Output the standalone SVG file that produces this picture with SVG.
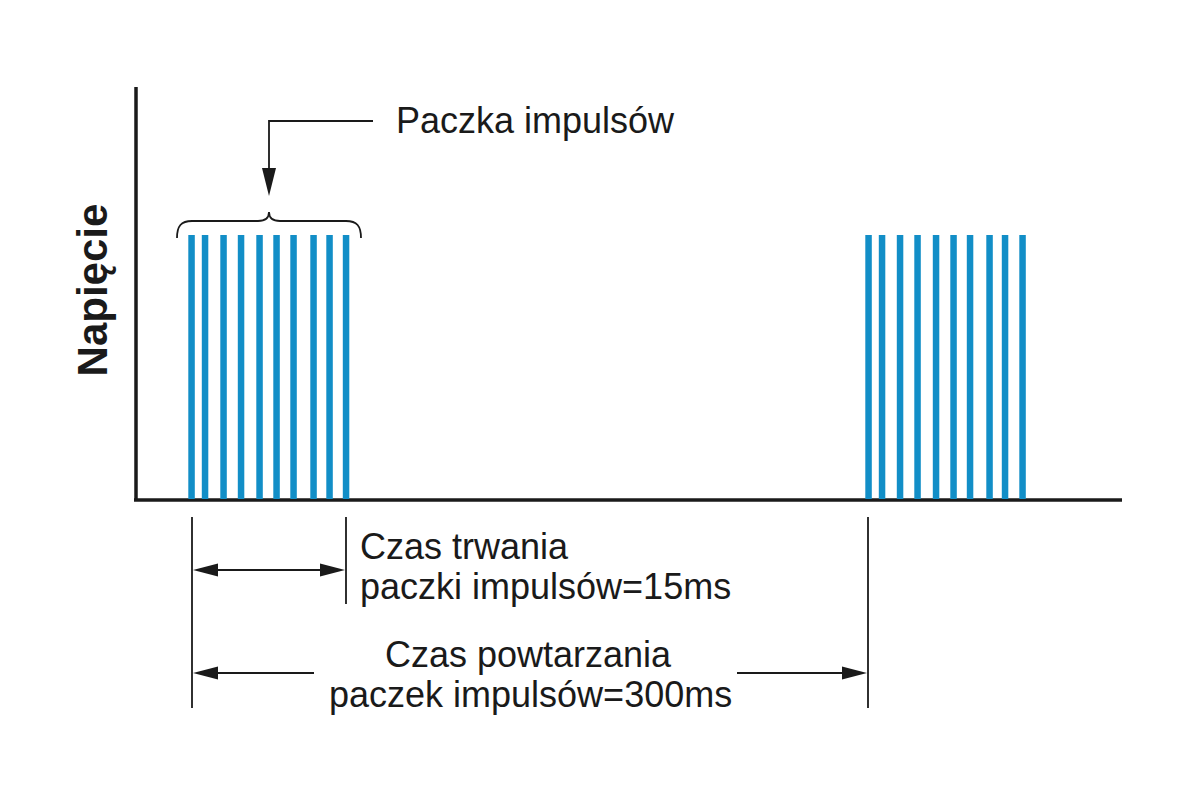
<svg xmlns="http://www.w3.org/2000/svg" width="1200" height="800" viewBox="0 0 1200 800">
<defs>
<style>
.t{font-family:"Liberation Sans",Arial,sans-serif;font-size:36px;fill:#1a1a1a}
.tb{font-family:"Liberation Sans",Arial,sans-serif;font-size:42px;font-weight:bold;fill:#1a1a1a}
.ax{stroke:#1a1a1a;stroke-width:3.5;fill:none}
.dim{stroke:#1a1a1a;stroke-width:1.8;fill:none}
.p{fill:#128ec7}
.ah{fill:#1a1a1a}
</style>
</defs>
<rect width="1200" height="800" fill="#ffffff"/>
<g id="axes">
<line class="ax" x1="136" y1="87" x2="136" y2="501"/>
<line class="ax" x1="134" y1="500" x2="1122" y2="500"/>
</g>
<g id="ylabel">
<text class="tb" x="107" y="290" text-anchor="middle" transform="rotate(-90 107 290)">Napięcie</text>
</g>
<g id="burst1">
<rect class="p" x="188.3" y="235" width="6.5" height="264"/>
<rect class="p" x="201.8" y="235" width="6.5" height="264"/>
<rect class="p" x="220.3" y="235" width="6.5" height="264"/>
<rect class="p" x="237.8" y="235" width="6.5" height="264"/>
<rect class="p" x="256.3" y="235" width="6.5" height="264"/>
<rect class="p" x="273.3" y="235" width="6.5" height="264"/>
<rect class="p" x="290.3" y="235" width="6.5" height="264"/>
<rect class="p" x="310.3" y="235" width="6.5" height="264"/>
<rect class="p" x="326.3" y="235" width="6.5" height="264"/>
<rect class="p" x="342.8" y="235" width="6.5" height="264"/>
</g>
<g id="burst2">
<rect class="p" x="865.3" y="235" width="6.5" height="264"/>
<rect class="p" x="878.8" y="235" width="6.5" height="264"/>
<rect class="p" x="896.8" y="235" width="6.5" height="264"/>
<rect class="p" x="914.3" y="235" width="6.5" height="264"/>
<rect class="p" x="932.8" y="235" width="6.5" height="264"/>
<rect class="p" x="950.3" y="235" width="6.5" height="264"/>
<rect class="p" x="966.8" y="235" width="6.5" height="264"/>
<rect class="p" x="986.3" y="235" width="6.5" height="264"/>
<rect class="p" x="1001.8" y="235" width="6.5" height="264"/>
<rect class="p" x="1019.3" y="235" width="6.5" height="264"/>
</g>
<g id="brace">
<path class="dim" d="M177,238 C177,226 181,221 192,221 L258,221 C265,221 269,218 269,212 C269,218 273,221 280,221 L346,221 C357,221 361,226 361,238"/>
</g>
<g id="label-burst">
<text class="t" x="396" y="133">Paczka impulsów</text>
</g>
<g id="label-duration">
<text class="t" x="360" y="559">Czas trwania</text>
<text class="t" x="360" y="599">paczki impulsów=15ms</text>
</g>
<g id="label-period">
<text class="t" x="385" y="667">Czas powtarzania</text>
<text class="t" x="329" y="707">paczek impulsów=300ms</text>
</g>
<g id="connectors">
<polyline class="dim" points="373,121 269,121 269,172"/>
<polygon class="ah" points="262,168 276,168 269,196"/>
<line class="dim" x1="192" y1="517" x2="192" y2="708"/>
<line class="dim" x1="346" y1="517" x2="346" y2="604"/>
<line class="dim" x1="868" y1="517" x2="868" y2="708"/>
<line class="dim" x1="212" y1="570" x2="326" y2="570"/>
<polygon class="ah" points="193,570 218,563.5 218,576.5"/>
<polygon class="ah" points="345,570 320,563.5 320,576.5"/>
<line class="dim" x1="212" y1="673" x2="314" y2="673"/>
<line class="dim" x1="737" y1="673" x2="848" y2="673"/>
<polygon class="ah" points="193,673 218,666.5 218,679.5"/>
<polygon class="ah" points="867,673 842,666.5 842,679.5"/>
</g>
</svg>
